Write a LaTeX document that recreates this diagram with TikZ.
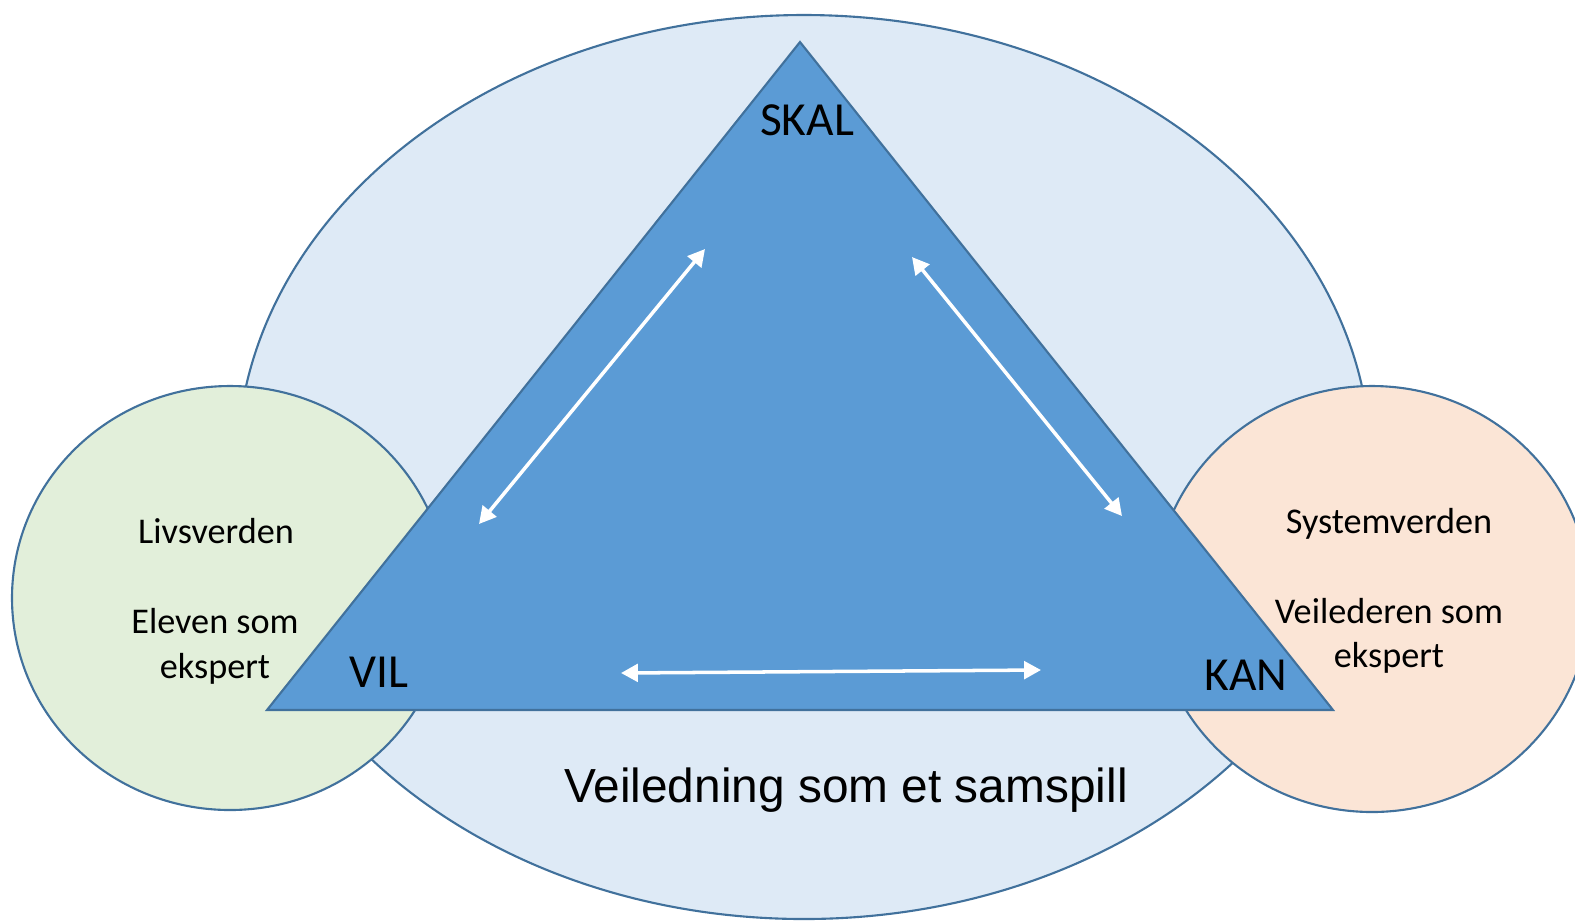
\documentclass[tikz,border=0pt]{standalone}
\usepackage{fontspec}
\setmainfont{Carlito}
\newfontfamily\arialf{Liberation Sans}
\usetikzlibrary{arrows.meta}
\definecolor{edgeblue}{HTML}{41719C}
\definecolor{ellfill}{HTML}{DEEAF6}
\definecolor{greenfill}{HTML}{E2EFDA}
\definecolor{orangefill}{HTML}{FBE5D6}
\definecolor{trifill}{HTML}{5B9BD5}
\tikzset{
  outline/.style={draw=edgeblue, line width=0.6pt},
  whitearrow/.style={draw=white, line width=1pt, {Triangle[length=4.8pt,width=5pt]}-{Triangle[length=4.8pt,width=5pt]}},
  bigcorner/.style={font=\fontsize{13.5pt}{16pt}\selectfont, anchor=base, inner sep=0pt},
  circletext/.style={font=\fontsize{10.3pt}{12.8pt}\selectfont, anchor=base, inner sep=0pt},
}
\begin{document}
\begin{tikzpicture}[x=0.01cm, y=-0.01cm]
\useasboundingbox (0,0) rectangle (1575,923);
\clip (0,0) rectangle (1575,923);
% big ellipse
\path[outline, fill=ellfill] (804,467) ellipse [x radius=567, y radius=452];
% side circles
\path[outline, fill=greenfill] (230,598) ellipse [x radius=218, y radius=212];
\path[outline, fill=orangefill] (1372,599) ellipse [x radius=218, y radius=213];
% triangle
\coordinate (top) at (800,42);
\coordinate (bl) at (267,710);
\coordinate (br) at (1333,710);
\path[outline, fill=trifill, line join=miter] (top) -- (bl) -- (br) -- cycle;
% arrows
\coordinate (a1s) at (479,524);
\coordinate (a1e) at (705,249);
\coordinate (a2s) at (912,257);
\coordinate (a2e) at (1122,516);
\coordinate (a3s) at (621,673);
\coordinate (a3e) at (1041,670);
\draw[whitearrow] (a1s) -- (a1e);
\draw[whitearrow] (a2s) -- (a2e);
\draw[whitearrow] (a3s) -- (a3e);
% corner labels
\node[bigcorner] (skal) at (807,135) {SKAL};
\node[bigcorner] (vil) at (379,687) {VIL};
\node[bigcorner] (kan) at (1246,690) {KAN};
% circle texts
\node[circletext] (liv) at (216,543) {Livsverden};
\node[circletext] (elev) at (215,633) {Eleven som};
\node[circletext] (eksp1) at (215,678) {ekspert};
\node[circletext] (sys) at (1389,533) {Systemverden};
\node[circletext] (veil) at (1389,623) {Veilederen som};
\node[circletext] (eksp2) at (1389,667) {ekspert};
% caption
\node[font=\arialf\fontsize{13.6pt}{16pt}\selectfont, anchor=base, inner sep=0pt] (cap) at (846,802) {Veiledning som et samspill};
\end{tikzpicture}
\end{document}
